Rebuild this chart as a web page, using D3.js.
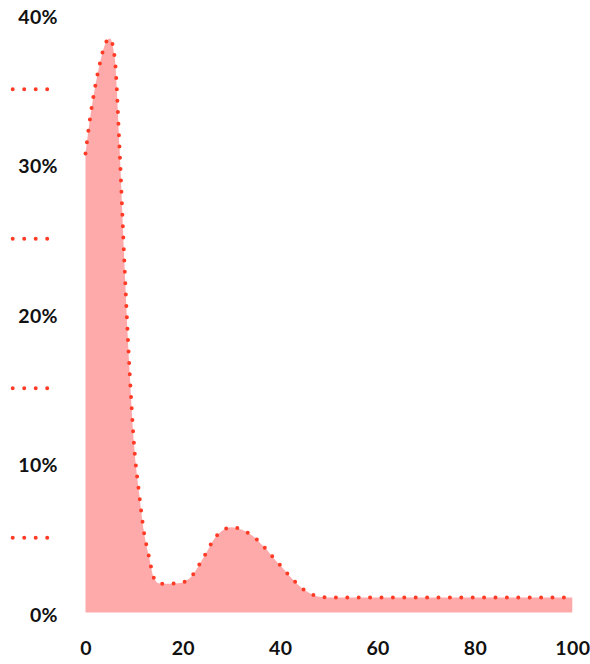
<!DOCTYPE html>
<html>
<head>
<meta charset="utf-8">
<script src="https://cdn.jsdelivr.net/npm/d3@7"></script>
<style>
  html, body { margin: 0; padding: 0; background: #fff; }
  svg { display: block; }
  .tick text { font-family: Lato, "Open Sans", sans-serif; font-weight: 700; font-size: 19.5px; letter-spacing: 0.4px; fill: #111; }
</style>
</head>
<body>
<svg id="chart" width="590" height="664"></svg>
<script>
// Data (x position, percent value)
const xValues = [0,1,2,3,4,5,6,7,8,9,10,11,12,13,14,15,16,17,18,19,20,21,22,23,24,25,26,27,28,29,30,31,32,33,34,35,36,37,38,39,40,41,42,43,44,45,46,47,48,49,50,55,60,65,70,75,80,85,90,95,100];
const yValues = [30.7,33.2,35.2,36.8,38.0,38.4,37.1,31.0,23.3,16.5,11.1,8.0,5.4,3.8,2.35,1.95,1.92,1.92,1.93,1.95,2.0,2.2,2.5,3.0,3.55,4.1,4.7,5.15,5.45,5.63,5.7,5.66,5.55,5.4,5.2,4.95,4.6,4.28,3.9,3.5,3.16,2.8,2.4,2.08,1.75,1.5,1.3,1.14,1.05,1.02,1.0,1.0,1.0,1.0,1.0,1.0,1.0,1.0,1.0,1.0,1.0];
const yTicks = [0,10,20,30,40];
const yMinorTicks = [5,15,25,35];
const xTicks = [0,20,40,60,80,100];

const data = xValues.map((x, i) => ({x: x, y: yValues[i]}));

const svg = d3.select("#chart");
const x = d3.scaleLinear().domain([0, 100]).range([85.5, 572.3]);
const y = d3.scaleLinear().domain([0, 40]).range([612.5, 14.5]);

const fillColor = "#ffaaaa";
const dotColor = "#ff3b26";

// Area
const area = d3.area()
  .x(d => x(d.x))
  .y0(y(0))
  .y1(d => y(d.y))
  .curve(d3.curveMonotoneX);
svg.append("path")
  .datum(data)
  .attr("d", area)
  .attr("fill", fillColor);

// Dotted outline
const line = d3.line()
  .x(d => x(d.x))
  .y(d => y(d.y))
  .curve(d3.curveMonotoneX);
svg.append("path")
  .datum(data)
  .attr("d", line)
  .attr("fill", "none")
  .attr("stroke", dotColor)
  .attr("stroke-width", 4)
  .attr("stroke-linecap", "round")
  .attr("stroke-dasharray", "0 11.4");

// Y axis labels
const yAxis = d3.axisLeft(y)
  .tickValues(yTicks)
  .tickFormat(d => d + "%")
  .tickSize(0)
  .tickPadding(0);
const gy = svg.append("g")
  .attr("transform", "translate(58,0)")
  .call(yAxis);
gy.select(".domain").remove();
gy.selectAll(".tick text").attr("dy", "0.45em").attr("text-anchor", "end");

// Minor dotted ticks
svg.append("g").selectAll("line")
  .data(yMinorTicks)
  .join("line")
  .attr("x1", 12.7)
  .attr("x2", 48)
  .attr("y1", d => y(d))
  .attr("y2", d => y(d))
  .attr("stroke", dotColor)
  .attr("stroke-width", 4)
  .attr("stroke-linecap", "round")
  .attr("stroke-dasharray", "0 11.5");

// X axis labels
const xAxis = d3.axisBottom(x)
  .tickValues(xTicks)
  .tickFormat(d3.format("d"))
  .tickSize(0)
  .tickPadding(0);
const gx = svg.append("g")
  .attr("transform", "translate(0," + y(0) + ")")
  .call(xAxis);
gx.select(".domain").remove();
gx.selectAll(".tick text").attr("y", 42.5).attr("dy", 0);
</script>
</body>
</html>
